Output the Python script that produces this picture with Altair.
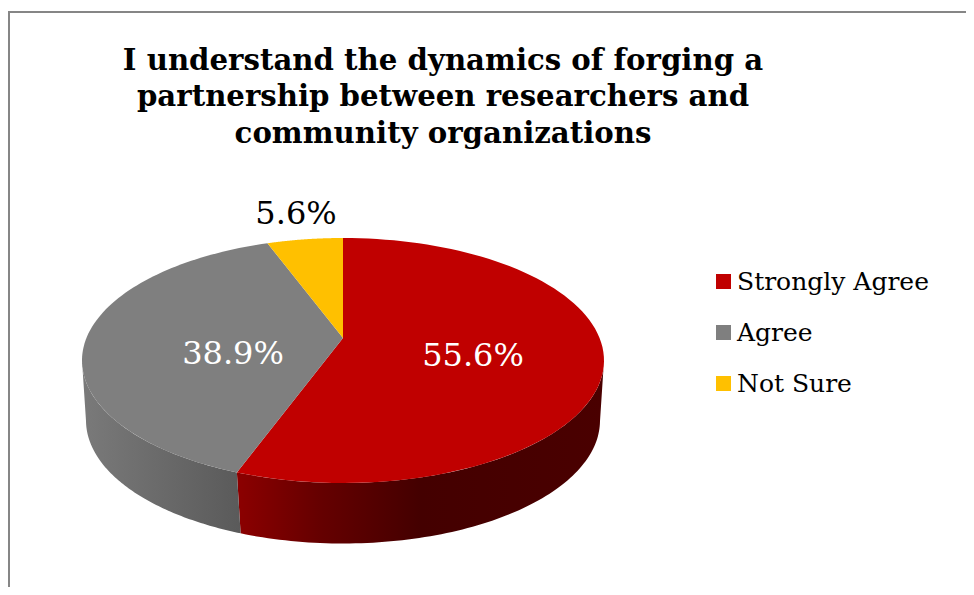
import math
import numpy as np
import altair as alt

# ---------- data ----------
categories = ["Strongly Agree", "Agree", "Not Sure"]
percent_values = [55.6, 38.9, 5.6]
colors = ["#C00000", "#7F7F7F", "#FFC000"]
title_lines = [
    "I understand the dynamics of forging a",
    "partnership between researchers and",
    "community organizations",
]

# ---------- styling / layout (chart pixels: page pixel minus the 8px margin) ----------
W, H = 958, 579
SERIF = "DejaVu Serif"
FRAME = "#868686"
TOP = dict(cx=335.0, cy=352.5, rx=261.0, ry=122.5, ay=330.0, tilt=0.46)
BOTTOM = dict(cx=335.0, cy=412.5, rx=257.0, ry=123.0, ay=390.0, tilt=0.48)
LABEL_POS = [(465, 358), (225, 356), (288, 216)]
LABEL_COL = ["white", "white", "black"]
TITLE_Y = [62, 98, 135]
TITLE_X = 435
TITLE_SIZE = 29.2
LABEL_SIZE = 32
LEGEND_SIZE = 25
RED_WALL = [(0, "#8C0000"), (0.22, "#660000"), (0.5, "#440000"), (1, "#4A0000")]
GRAY_WALL = [(0, "#7A7A7A"), (1, "#5A5A5A")]


def rim(phi_deg, e):
    """Point of the tilted ellipse hit by the ray at true pie angle phi (clockwise from 12 o'clock)."""
    p = math.radians(phi_deg)
    dx, dy = math.sin(p), -e["tilt"] * math.cos(p)
    off = e["ay"] - e["cy"]
    a = (dx / e["rx"]) ** 2 + (dy / e["ry"]) ** 2
    b = 2 * off * dy / e["ry"] ** 2
    c = (off / e["ry"]) ** 2 - 1
    s = (-b + math.sqrt(b * b - 4 * a * c)) / (2 * a)
    return [e["cx"] + s * dx, e["ay"] + s * dy]


def feature(name, ring):
    ring = [[round(x, 2), round(y, 2)] for x, y in ring]
    ring.append(ring[0])
    return {"type": "Feature", "properties": {"name": name},
            "geometry": {"type": "Polygon", "coordinates": [ring]}}


total = sum(percent_values)
edges = np.cumsum([0] + percent_values) / total * 360

faces = []
for name, a, b in zip(categories, edges[:-1], edges[1:]):
    pts = [rim(p, TOP) for p in np.linspace(a, b, 90)]
    faces.append(feature(name, [[TOP["cx"], TOP["ay"]]] + pts))

# the side wall shows from the right extreme of the ellipse round to the left one
phi_edge = 90 + math.degrees(math.atan((TOP["cy"] - TOP["ay"]) / (TOP["rx"] * TOP["tilt"])))


def wall(name, a, b):
    upper = [rim(p, TOP) for p in np.linspace(a, b, 90)]
    lower = [rim(p, BOTTOM) for p in np.linspace(b, a, 90)]
    return feature(name, upper + lower)


projection = alt.Projection(type="identity", scale=1, translate=[0, 0])


def gradient(stops):
    return alt.LinearGradient(
        gradient="linear", x1=0, x2=1, y1=0, y2=0,
        stops=[alt.GradientStop(offset=o, color=c) for o, c in stops],
    )


red_wall = alt.Chart(alt.Data(values=[wall("red wall", phi_edge, edges[1])])).mark_geoshape(
    fill=gradient(RED_WALL), stroke=None).project(**projection.to_dict())
gray_wall = alt.Chart(alt.Data(values=[wall("gray wall", edges[1], 360 - phi_edge)])).mark_geoshape(
    fill=gradient(GRAY_WALL), stroke=None).project(**projection.to_dict())

top = alt.Chart(alt.Data(values=faces)).mark_geoshape(stroke=None).encode(
    color=alt.Color(
        "properties.name:N",
        scale=alt.Scale(domain=categories, range=colors),
        sort=categories,
        legend=alt.Legend(
            title=None, orient="none", legendX=703, legendY=261, padding=0,
            symbolType="square", symbolSize=225, symbolStrokeWidth=0, symbolOpacity=1,
            labelFont=SERIF, labelFontSize=LEGEND_SIZE, labelColor="black",
            labelOffset=1, rowPadding=25, labelLimit=300,
        ),
    )
).project(**projection.to_dict())


def text_layer(text, x, y, size, color="black", weight="normal"):
    return alt.Chart(alt.Data(values=[{"t": text}])).mark_text(
        font=SERIF, fontSize=size, color=color, fontWeight=weight,
        align="center", baseline="alphabetic",
    ).encode(x=alt.value(x), y=alt.value(y), text="t:N")


labels = [
    text_layer(f"{v}%", x, y, LABEL_SIZE, c)
    for v, (x, y), c in zip(percent_values, LABEL_POS, LABEL_COL)
]
titles = [text_layer(t, TITLE_X, y, TITLE_SIZE, weight="bold") for t, y in zip(title_lines, TITLE_Y)]

frame_top = alt.Chart(alt.Data(values=[{"a": 0}])).mark_rule(color=FRAME, strokeWidth=2).encode(
    x=alt.value(0), x2=alt.value(W), y=alt.value(4))
frame_left = alt.Chart(alt.Data(values=[{"a": 0}])).mark_rule(color=FRAME, strokeWidth=2).encode(
    x=alt.value(1), y=alt.value(4), y2=alt.value(H))

chart = alt.layer(frame_top, frame_left, red_wall, gray_wall, top, *labels, *titles).properties(
    width=W, height=H, padding=0, autosize=alt.AutoSizeParams(type="none"),
    background="white",
).configure_view(stroke=None)

chart.save("out.html", embed_options={"renderer": "svg", "actions": False})
